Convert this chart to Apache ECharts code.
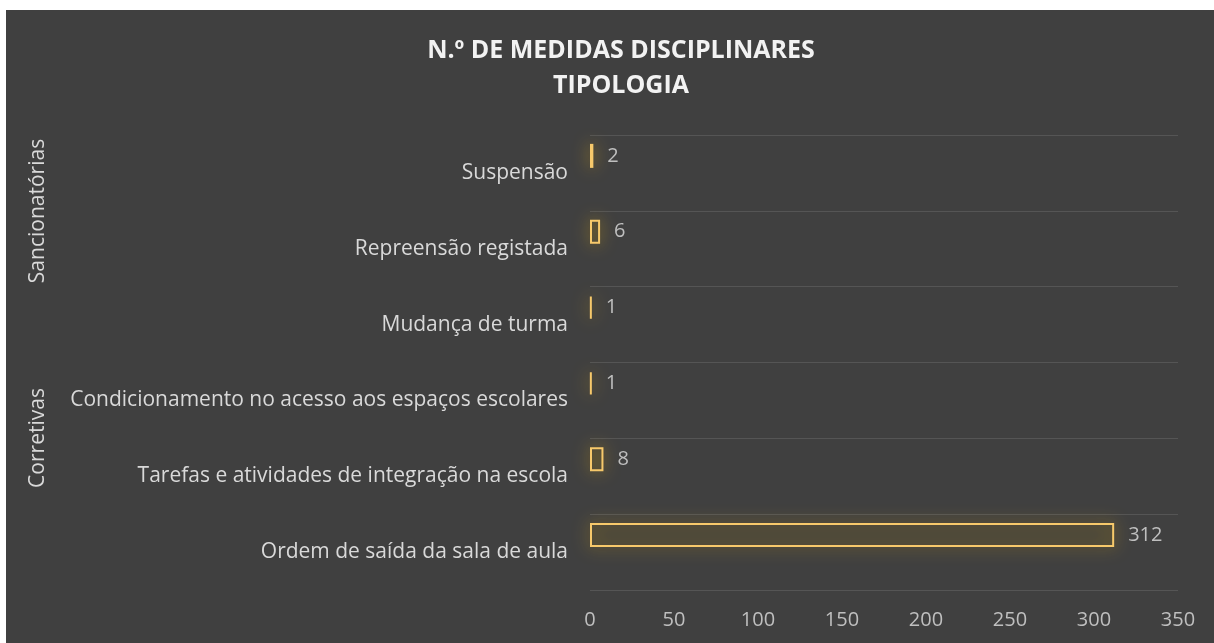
<!DOCTYPE html>
<html>
<head>
<meta charset="utf-8">
<script src="https://cdn.jsdelivr.net/npm/echarts@6/dist/echarts.min.js"></script>
<style>
  html, body { margin: 0; padding: 0; background: #fff; }
  #chart { width: 1214px; height: 643px; }
</style>
</head>
<body>
<div id="chart"></div>
<script>
// categorias de baixo para cima (eixo y)
const categories = [
  'Ordem de saída da sala de aula',
  'Tarefas e atividades de integração na escola',
  'Condicionamento no acesso aos espaços escolares',
  'Mudança de turma',
  'Repreensão registada',
  'Suspensão'
]
const values = [312, 8, 1, 1, 6, 2]
const groups = ['Sancionatórias', 'Corretivas']
const xTicks = [0, 50, 100, 150, 200, 250, 300, 350]

const chart = echarts.init(document.getElementById('chart'))

const labelFont = '"Open Sans", "Noto Sans", sans-serif'

const option = {
  backgroundColor: '#fff',
  animation: false,
  graphic: [
    {
      type: 'rect',
      shape: { x: 6, y: 10, width: 1208, height: 633 },
      style: { fill: '#404040' },
      z: -10
    },
    {
      type: 'text',
      x: 38, y: 211, rotation: Math.PI / 2,
      style: { text: groups[0], fill: '#d9d9d9', font: '21px ' + labelFont, align: 'center', verticalAlign: 'middle' }
    },
    {
      type: 'text',
      x: 38, y: 438, rotation: Math.PI / 2,
      style: { text: groups[1], fill: '#d9d9d9', font: '21px ' + labelFont, align: 'center', verticalAlign: 'middle' }
    }
  ],
  title: {
    text: 'N.º DE MEDIDAS DISCIPLINARES\nTIPOLOGIA',
    left: 616,
    top: 28,
    textAlign: 'center',
    textStyle: {
      color: '#f2f2f2',
      fontFamily: labelFont,
      fontWeight: 'bold',
      fontSize: 25,
      lineHeight: 35
    }
  },
  grid: {
    left: 590,
    right: 36,
    top: 135,
    bottom: 53
  },
  xAxis: {
    type: 'value',
    min: 0,
    max: 350,
    interval: 50,
    axisLine: { show: false },
    axisTick: { show: false },
    splitLine: { show: false },
    axisLabel: {
      color: '#bfbfbf',
      fontSize: 20,
      fontFamily: labelFont,
      margin: 20,
      formatter: v => xTicks.includes(v) ? String(v) : ''
    }
  },
  yAxis: {
    type: 'category',
    data: categories,
    axisLine: { show: false },
    axisTick: { show: false },
    splitLine: { show: true, lineStyle: { color: '#555555', width: 1 } },
    axisLabel: {
      color: '#d9d9d9',
      fontSize: 21,
      fontFamily: labelFont,
      margin: 22
    }
  },
  series: [
    {
      type: 'bar',
      data: values,
      barWidth: 24,
      barGap: '42%',
      itemStyle: {
        color: 'rgba(255, 192, 0, 0.02)',
        borderColor: '#f7c96b',
        borderWidth: 2,
        shadowBlur: 16,
        shadowColor: 'rgba(255, 192, 0, 0.7)'
      },
      label: {
        show: true,
        position: 'right',
        distance: 14,
        color: '#bfbfbf',
        fontSize: 20,
        fontFamily: labelFont
      }
    },
    {
      // série vazia: reserva o espaço do segundo nível (como no Excel)
      type: 'bar',
      data: values.map(() => null),
      barWidth: 24,
      silent: true
    }
  ]
}

chart.setOption(option)
</script>
</body>
</html>
